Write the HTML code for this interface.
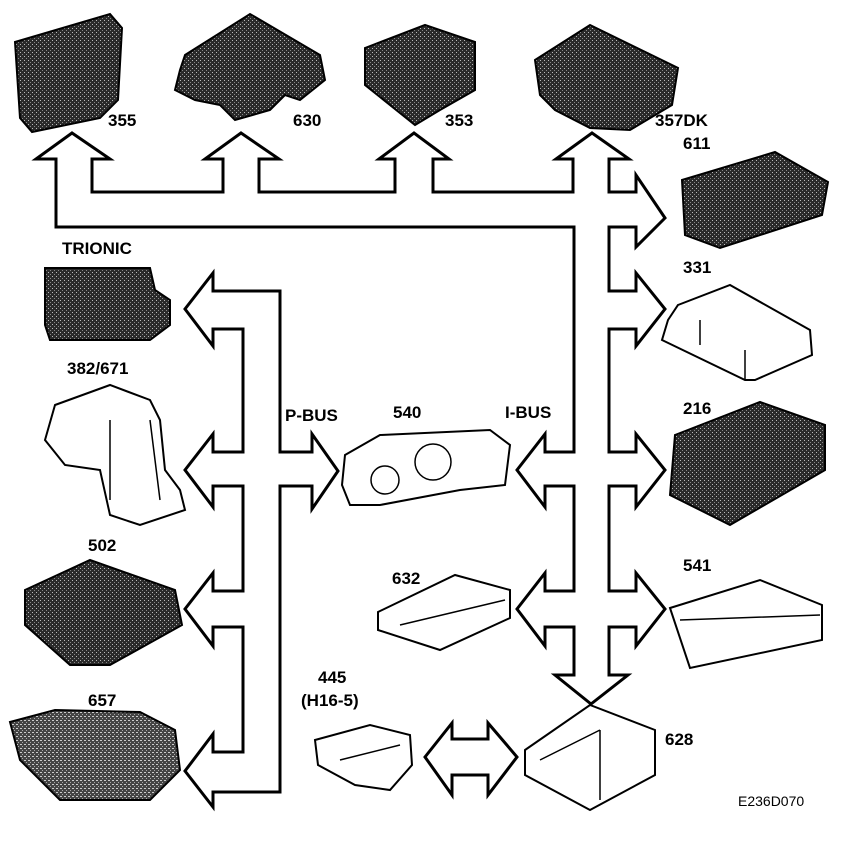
<!DOCTYPE html>
<html><head><meta charset="utf-8"><style>
html,body{margin:0;padding:0;background:#fff;}
svg{display:block}
text{font-family:"Liberation Sans",sans-serif;font-weight:bold;font-size:17px;fill:#000}
</style></head><body>
<svg width="864" height="858" viewBox="0 0 864 858" xmlns="http://www.w3.org/2000/svg">
<defs>
<pattern id="h" width="4" height="4" patternUnits="userSpaceOnUse">
<rect width="4" height="4" fill="#2a2a2a"/><rect x="0" y="0" width="1" height="1" fill="#bbb"/><rect x="2" y="2" width="1" height="1" fill="#888"/>
</pattern>
<pattern id="h2" width="4" height="4" patternUnits="userSpaceOnUse">
<rect width="4" height="4" fill="#444"/><rect x="0" y="0" width="2" height="1" fill="#ccc"/><rect x="2" y="2" width="1" height="1" fill="#aaa"/>
</pattern>
</defs>
<g fill="#fff" stroke="#000" stroke-width="3" stroke-linejoin="miter">
<path d="M56,227 L56,159 L36,159 L72,133 L110,159 L92,159 L92,192 L223,192 L223,159 L205,159 L241,133 L279,159 L259,159 L259,192 L395,192 L395,159 L379,159 L414,133 L449,159 L433,159 L433,192 L573,192 L573,159 L556,159 L592,133 L629,159 L609,159 L609,192 L636,192 L636,175 L665,218 L636,247 L636,227 L609,227 L609,291 L636,291 L636,273 L665,309 L636,346 L636,329 L609,329 L609,452 L636,452 L636,434 L665,470 L636,507 L636,486 L609,486 L609,591 L636,591 L636,573 L665,609 L636,646 L636,627 L609,627 L609,675 L628,675 L591,704 L555,675 L574,675 L574,627 L545,627 L545,646 L517,609 L545,573 L545,591 L574,591 L574,486 L545,486 L545,507 L517,470 L545,434 L545,452 L574,452 L574,227 Z"/>
<path d="M213,291 L280,291 L280,452 L312,452 L312,434 L338,471 L312,509 L312,486 L280,486 L280,792 L213,792 L213,807 L185,771 L213,734 L213,752 L243,752 L243,627 L213,627 L213,646 L185,609 L213,573 L213,591 L243,591 L243,486 L213,486 L213,507 L185,470 L213,434 L213,452 L243,452 L243,329 L213,329 L213,346 L185,309 L213,273 Z"/>
<path d="M425,757 L452,723 L452,739 L488,739 L488,723 L517,757 L488,795 L488,775 L452,775 L452,795 Z"/>
</g>
<g stroke="#000" stroke-width="2">
<path d="M15,42 L110,14 L122,28 L118,100 L100,118 L32,132 L20,118 Z" fill="url(#h)"/>
<path d="M185,55 L250,14 L320,55 L325,80 L300,100 L285,95 L270,110 L235,120 L220,105 L195,100 L175,90 L180,70 Z" fill="url(#h)"/>
<path d="M365,48 L425,25 L475,42 L475,90 L440,110 L415,125 L365,85 Z" fill="url(#h)"/>
<path d="M535,60 L590,25 L678,68 L672,105 L630,130 L590,128 L555,110 L540,95 Z" fill="url(#h)"/>
<path d="M682,180 L775,152 L828,182 L822,215 L720,248 L685,235 Z" fill="url(#h)"/>
<path d="M45,268 L150,268 L155,290 L170,300 L170,325 L150,340 L50,340 L45,325 Z" fill="url(#h)"/>
<path d="M675,435 L760,402 L825,425 L825,470 L730,525 L670,495 Z" fill="url(#h)"/>
<path d="M25,590 L90,560 L175,590 L182,625 L110,665 L70,665 L25,625 Z" fill="url(#h)"/>
<path d="M10,722 L55,710 L140,712 L175,730 L180,770 L150,800 L60,800 L20,760 Z" fill="url(#h2)"/>
</g>
<g fill="#fff" stroke="#000" stroke-width="2">
<path d="M678,305 L730,285 L810,330 L812,355 L755,380 L745,380 L662,340 L668,320 Z"/>
<path d="M55,405 L110,385 L150,400 L160,420 L165,470 L180,490 L185,510 L140,525 L110,515 L100,470 L65,465 L45,440 Z"/>
<path d="M345,455 L380,435 L490,430 L510,445 L505,485 L460,490 L380,505 L350,505 L342,485 Z"/>
<path d="M378,612 L455,575 L510,590 L510,618 L440,650 L378,630 Z"/>
<path d="M525,750 L590,705 L655,730 L655,775 L590,810 L525,775 Z"/>
<path d="M670,608 L760,580 L822,605 L822,640 L690,668 Z"/>
<path d="M315,740 L370,725 L410,735 L412,765 L390,790 L355,785 L318,765 Z"/>
</g>
<g fill="none" stroke="#000" stroke-width="1.5">
<circle cx="385" cy="480" r="14"/><circle cx="433" cy="462" r="18"/>
<path d="M540,760 L600,730 M600,730 L600,800 M340,760 L400,745 M700,320 L700,345 M745,350 L745,380 M680,620 L820,615 M400,625 L505,600 M110,420 L110,500 M150,420 L160,500"/>
</g>
<text x="108" y="126">355</text>
<text x="293" y="126">630</text>
<text x="445" y="126">353</text>
<text x="655" y="126">357DK</text>
<text x="683" y="149">611</text>
<text x="683" y="273">331</text>
<text x="683" y="414">216</text>
<text x="683" y="571">541</text>
<text x="62" y="254">TRIONIC</text>
<text x="67" y="374">382/671</text>
<text x="88" y="551">502</text>
<text x="88" y="706">657</text>
<text x="285" y="421">P-BUS</text>
<text x="393" y="418">540</text>
<text x="505" y="418">I-BUS</text>
<text x="392" y="584">632</text>
<text x="318" y="683">445</text>
<text x="301" y="706">(H16-5)</text>
<text x="665" y="745">628</text>
<text x="738" y="806" style="font-weight:normal;font-size:14px">E236D070</text>
</svg>
</body></html>
